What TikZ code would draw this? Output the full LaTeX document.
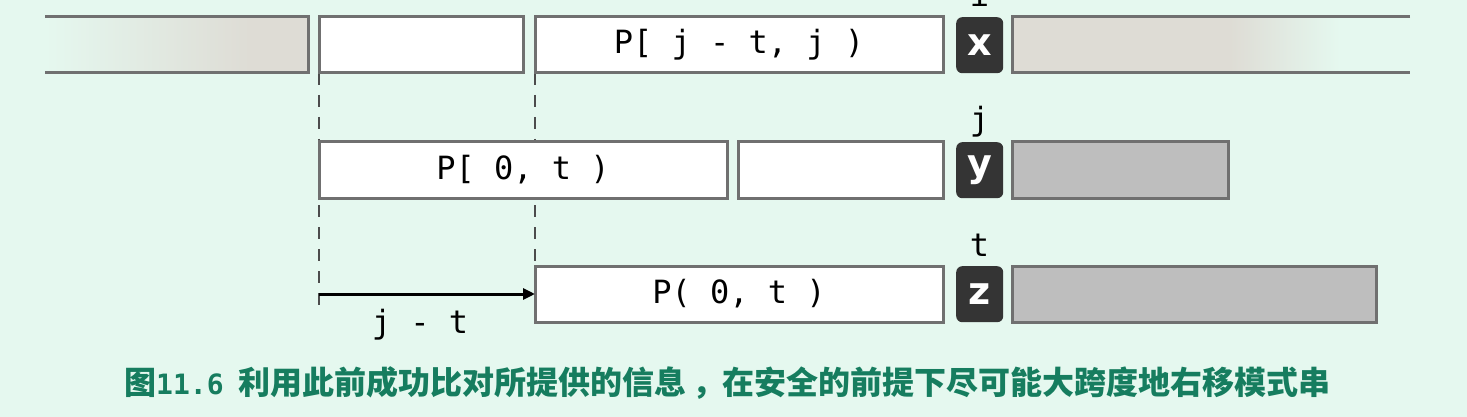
\documentclass[tikz,border=0pt]{standalone}
\usepackage{fontspec}
\setmonofont{DejaVu Sans Mono}
\newfontfamily\tilefont{DejaVu Sans}
\newfontfamily\cjk{Noto Sans CJK SC}
\usetikzlibrary{arrows.meta}
\definecolor{bg}{RGB}{229,248,239}
\definecolor{border}{RGB}{112,112,112}
\definecolor{beige}{RGB}{222,220,213}
\definecolor{gfill}{RGB}{190,190,190}
\definecolor{tile}{RGB}{52,52,52}
\definecolor{capgreen}{RGB}{22,125,95}
\begin{document}
\begin{tikzpicture}[x=1pt,y=-1pt,
  cell/.style={draw=border, line width=3pt, fill=white, anchor=north west,
    minimum height=56pt, inner sep=0pt, outer sep=0pt,
    font=\ttfamily\fontsize{32}{32}\selectfont},
  graycell/.style={cell, fill=gfill},
  tilebox/.style={fill=tile, rounded corners=6pt, anchor=north west,
    minimum width=47pt, minimum height=56pt, inner sep=0pt, text=white,
    font=\tilefont\bfseries\fontsize{38}{38}\selectfont},
  idx/.style={anchor=base, font=\ttfamily\fontsize{32}{32}\selectfont},
  guide/.style={draw=black!70, line width=2.4pt, dash pattern=on 12pt off 10pt},
  edge/.style={draw=border, line width=3pt}
]
\useasboundingbox (0,0) rectangle (1467,417);
\fill[bg] (0,0) rectangle (1467,417);

% guides (drawn first, boxes on top)
\coordinate (g1top) at (319,73);
\coordinate (g1bot) at (319,312);
\coordinate (g2top) at (535,73);
\coordinate (g2bot) at (535,266);
\draw[guide] (g1top) -- (g1bot);
\draw[guide] (g2top) -- (g2bot);

% row 1
\shade[left color=bg, right color=beige] (45,17) rectangle (250,73);
\fill[beige] (249,17) rectangle (308,73);
\draw[edge] (45,17) -- (308,17) -- (308,73) -- (45,73);
\node[cell, minimum width=204pt] (b1) at (319,17) {};
\node[cell, minimum width=408pt] (b2) at (535,17) {P[ j - t, j )};
\node[tilebox] (tx) at (956,17) {x};
\fill[beige] (1012,17) rectangle (1232,73);
\shade[left color=beige, right color=bg] (1230,17) rectangle (1340,73);
\draw[edge] (1410,17) -- (1012,17) -- (1012,73) -- (1410,73);
\node[idx] (li) at (979.5,7) {i};

% row 2
\node[cell, minimum width=408pt] (b3) at (319,142) {P[ 0, t )};
\node[cell, minimum width=205pt] (b4) at (738,142) {};
\node[tilebox] (ty) at (956,142) {y};
\node[graycell, minimum width=216pt] (r2) at (1012,142) {};
\node[idx] (lj) at (979.5,131) {j};

% row 3
\node[cell, minimum width=408pt] (b5) at (535,266) {P( 0, t )};
\node[tilebox] (tz) at (956,266) {z};
\node[graycell, minimum width=364pt] (r3) at (1012,266) {};
\node[idx] (lt) at (979.5,256) {t};

% shift arrow
\coordinate (astart) at (319,294);
\draw[line width=3pt, -{Triangle[length=12pt,width=11pt]}] (astart) -- (b5.west);
\node[font=\ttfamily\fontsize{32}{32}\selectfont] (shift) at (420,325) {j - t};

% caption
\node[anchor=west, inner sep=0pt, text=capgreen] (cap) at (124,383)
  {\cjk\bfseries\fontsize{32}{32}\selectfont 图{\ttfamily\bfseries\fontsize{28}{28}\selectfont 11.6}\hspace{15pt}利用此前成功比对所提供的信息\hspace{6pt}，\hspace{-2pt}在安全的前提下尽可能大跨度地右移模式串};
\end{tikzpicture}
\end{document}
